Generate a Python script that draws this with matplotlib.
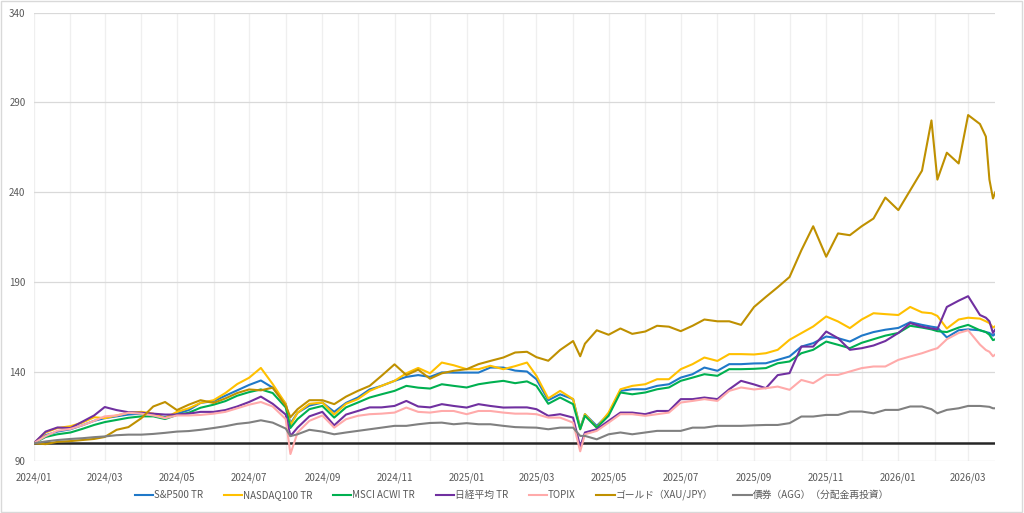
import matplotlib.pyplot as plt
import matplotlib.dates as mdates
import pandas as pd

plt.rcParams['font.family'] = ['Noto Sans CJK JP', 'DejaVu Sans']

# データ（2024/01/01 = 100）
dates = [
    '2024-01-01', '2024-01-11', '2024-01-21', '2024-02-01', '2024-02-11', '2024-02-21',
    '2024-03-01', '2024-03-11', '2024-03-21', '2024-04-01', '2024-04-11', '2024-04-21',
    '2024-05-01', '2024-05-11', '2024-05-21', '2024-06-01', '2024-06-11', '2024-06-21',
    '2024-07-01', '2024-07-11', '2024-07-21', '2024-08-01', '2024-08-05', '2024-08-11',
    '2024-08-21', '2024-09-01', '2024-09-11', '2024-09-21', '2024-10-01', '2024-10-11',
    '2024-10-21', '2024-11-01', '2024-11-11', '2024-11-21', '2024-12-01', '2024-12-11',
    '2024-12-21',
    '2025-01-01', '2025-01-11', '2025-01-21', '2025-02-01', '2025-02-11', '2025-02-21',
    '2025-03-01', '2025-03-11', '2025-03-21', '2025-04-01', '2025-04-07', '2025-04-11',
    '2025-04-21', '2025-05-01', '2025-05-11', '2025-05-21', '2025-06-01', '2025-06-11',
    '2025-06-21', '2025-07-01', '2025-07-11', '2025-07-21', '2025-08-01', '2025-08-11',
    '2025-08-21', '2025-09-01', '2025-09-11', '2025-09-21', '2025-10-01', '2025-10-11',
    '2025-10-21', '2025-11-01', '2025-11-11', '2025-11-21', '2025-12-01', '2025-12-11',
    '2025-12-21',
    '2026-01-01', '2026-01-11', '2026-01-21', '2026-01-29', '2026-02-03', '2026-02-11',
    '2026-02-21', '2026-03-01', '2026-03-11', '2026-03-16', '2026-03-19', '2026-03-22',
    '2026-03-24',
]

sp500 = [
    100, 104.5, 106.5, 107.8, 110, 112.5, 114, 115, 116, 116.5, 116, 114.5,
    116.5, 118.5, 122.5, 123.5, 126.5, 129.5, 132.5, 135, 131, 122, 111, 117,
    121, 122.7, 117.5, 122.5, 125.5, 130, 132, 134.8, 137, 138, 137, 139.5, 139.4,
    139.4, 139.4, 142.2, 142.2, 140.5, 140, 135.7, 124, 127.3, 124.6, 108.5, 116.2,
    109.7, 116.2, 129.2, 130.1, 130.1, 132, 132.9, 136.6, 138.5, 142.2, 140.4, 144.1,
    144.1, 144.5, 144.6, 146.5, 148.4, 153.9, 155.8, 159.5, 158.6, 156.7, 160, 162,
    163.3,
    164.3, 167.5, 166, 165, 164.5, 159, 163, 163.5, 163, 162, 161.5, 160, 161,
]
nasdaq100 = [
    100, 106, 108.5, 109.5, 111.5, 114.5, 114, 115.5, 117, 117.5, 116.5, 114,
    117.5, 119.5, 122.5, 124, 128, 133, 136.5, 142, 133, 122, 110, 117,
    122, 122.7, 116, 122, 124.6, 129.2, 132, 134.8, 139, 142, 139, 145, 143.5,
    141.3, 141.3, 143.2, 141.3, 143, 145, 137.6, 125, 129.2, 124.6, 107.8, 116.2,
    108.7, 117.1, 130.1, 132, 132.9, 135.7, 135.7, 141.3, 144.1, 147.8, 145.9, 149.7,
    149.7, 149.5, 150.2, 152.1, 157.7, 161.4, 165.1, 170.7, 167.9, 164.2, 169, 172.5,
    172,
    171.5, 176, 173, 172.5, 171, 164, 169, 170, 169.5, 168, 167, 164.5, 165.3,
]
acwi = [
    100, 103.5, 105, 106, 108, 110.2, 111.8, 113, 114.2, 115, 115, 113.5,
    115.8, 117, 119.8, 121.5, 123.5, 126.5, 128.5, 130, 128, 120, 108.5, 113.5,
    119, 120.8, 114.3, 120, 122.7, 125.5, 127.3, 129.2, 132, 131, 130.5, 132.9, 132,
    131.1, 132.9, 133.9, 134.8, 133.5, 134.5, 132, 122, 125.5, 121.8, 107.8, 115.3,
    108.7, 115.3, 128.3, 127.3, 128.3, 130.1, 131.1, 134.8, 136.6, 138.5, 137.6, 141.3,
    141.3, 141.5, 141.9, 144.6, 145.6, 150.2, 152.1, 156.7, 154.9, 153, 156, 158,
    160,
    161.5, 165.5, 164.5, 163.5, 162.5, 162, 164.5, 166, 163, 162, 160.5, 157.5, 158,
]
nikkei = [
    100, 106.5, 108.8, 108.5, 112, 115.5, 120.2, 118.5, 117.3, 117, 116.5, 116,
    116, 116.5, 117.5, 117.5, 118.5, 120.5, 123, 126, 122, 116, 104, 108.7,
    115, 117.5, 110, 116, 118, 120, 120, 120.8, 123.6, 120.5, 120, 121.8, 120.8,
    119.9, 121.8, 120.8, 119.9, 120, 120, 119, 115.3, 116.2, 114.3, 98, 106,
    107.8, 112.5, 117.1, 117.1, 116.2, 118, 118, 124.6, 124.6, 125.5, 124.6, 130.1,
    134.8, 132.8, 130.7, 138, 139.1, 153.9, 153.9, 162.3, 158.6, 152.1, 153, 154.5,
    157,
    161.5, 167, 165, 164, 163.5, 176, 179.5, 182, 171.5, 170, 168, 161.5, 163.5,
]
topix = [
    100, 104, 107, 108, 110, 112.5, 115, 115.5, 117, 116.5, 115.5, 114,
    115.5, 115.5, 115.8, 116.5, 117.5, 119.5, 121.5, 123, 120.5, 113.5, 94, 106,
    112.5, 115.5, 108.7, 113.4, 115.3, 116.2, 116.5, 117.1, 119.9, 117.5, 117.1, 118, 118,
    116.2, 118, 118, 117.1, 116.5, 116.5, 116.2, 114.3, 114.3, 111.5, 95.5, 105,
    106.9, 111.5, 116.2, 116.2, 115.3, 116.2, 117.1, 122.7, 123.6, 124.6, 123.6, 129.2,
    131.1, 130, 130.7, 131.6, 129.8, 135.3, 133.5, 138.1, 138.1, 140, 141.9, 142.8,
    142.8,
    146.5, 148.4, 150.2, 152, 153, 158, 161.5, 163, 155, 152, 151, 148.5, 149.5,
]
gold = [
    100, 99.5, 100.8, 101.2, 101.8, 102.4, 103.5, 107.5, 109, 114, 120.5, 123,
    118.5, 121.5, 124, 122.5, 125, 128, 130, 129.5, 131, 121, 114.5, 119,
    124, 124, 121.8, 126, 129.2, 132, 137.6, 144, 138, 141, 136, 139, 140.4,
    141.3, 144.1, 145.9, 147.8, 150.6, 151, 148, 146, 152, 157, 148.5, 155.5,
    163, 160.5, 164, 161, 162.3, 165.5, 165, 162.5, 165.5, 169, 168, 168,
    166, 176, 181.6, 187, 192.7, 207.6, 221, 204, 217, 216, 221, 225.3,
    237,
    230, 241, 252, 280, 247, 262, 256, 283, 278, 271, 247, 236.5, 240,
]
agg = [
    100, 101, 101.8, 102.4, 102.8, 103.4, 103.8, 104.5, 104.8, 104.8, 105.2, 105.8,
    106.5, 106.8, 107.5, 108.5, 109.5, 110.8, 111.5, 112.8, 111.5, 108.2, 104, 105,
    107.5, 106.5, 105, 106, 106.9, 107.8, 108.7, 109.7, 109.7, 110.6, 111.3, 111.5, 110.6,
    111.2, 110.6, 110.6, 109.7, 109, 108.8, 108.7, 107.8, 108.7, 108.7, 104.1, 104.1,
    102.2, 105, 106, 105, 106, 106.9, 106.9, 106.9, 108.7, 108.7, 109.7, 109.7,
    109.7, 110, 110.2, 110.2, 111.2, 114.9, 114.9, 115.8, 115.8, 117.7, 117.7, 116.7,
    118.6,
    118.6, 120.5, 120.5, 119, 116.7, 118.6, 119.5, 120.8, 120.8, 120.5, 120.3, 119.5, 119.5,
]

labels = ['S&P500 TR', 'NASDAQ100 TR', 'MSCI ACWI TR', '日経平均 TR', 'TOPIX',
          'ゴールド（XAU/JPY）', '債券（AGG）（分配金再投資）']
colors = ['#1F78C8', '#FFC000', '#00B050', '#7030A0', '#FFAAAA', '#BF9000', '#808080']

x = pd.to_datetime(dates)

fig = plt.figure(figsize=(10.24, 5.13), dpi=100)
ax = fig.add_axes([0.033, 0.101, 0.939, 0.874])

for ys, lab, col in zip([sp500, nasdaq100, acwi, nikkei, topix, gold, agg], labels, colors):
    ax.plot(x, ys, color=col, lw=1.5, label=lab)

ax.axhline(100, color='#262626', lw=1.8, zorder=1)

ax.set_ylim(90, 340)
ax.set_yticks(range(90, 341, 50))
ax.set_xlim(x[0], x[-1])

ax.xaxis.set_major_locator(mdates.MonthLocator(bymonth=[1, 3, 5, 7, 9, 11]))
ax.xaxis.set_minor_locator(mdates.MonthLocator())
ax.xaxis.set_major_formatter(mdates.DateFormatter('%Y/%m'))

ax.grid(True, axis='y', color='#D9D9D9', lw=0.9)
ax.grid(True, axis='x', which='both', color='#EFEFEF', lw=0.9)
ax.set_axisbelow(True)

for s in ax.spines.values():
    s.set_visible(False)
ax.tick_params(axis='both', which='both', length=0, labelsize=7, colors='#595959')
ax.tick_params(axis='y', pad=6)
ax.tick_params(axis='x', pad=8)

fig.legend(loc='center', bbox_to_anchor=(0.5, 0.035), ncol=7, frameon=False,
           fontsize=7, handlelength=1.9, columnspacing=2.1, handletextpad=0.1,
           labelcolor='#595959')

# 外枠
fig.patches.append(plt.Rectangle((0.001, 0.002), 0.997, 0.996, transform=fig.transFigure,
                                 fill=False, edgecolor='#D9D9D9', lw=1))

fig.savefig('out.png', dpi=100)
